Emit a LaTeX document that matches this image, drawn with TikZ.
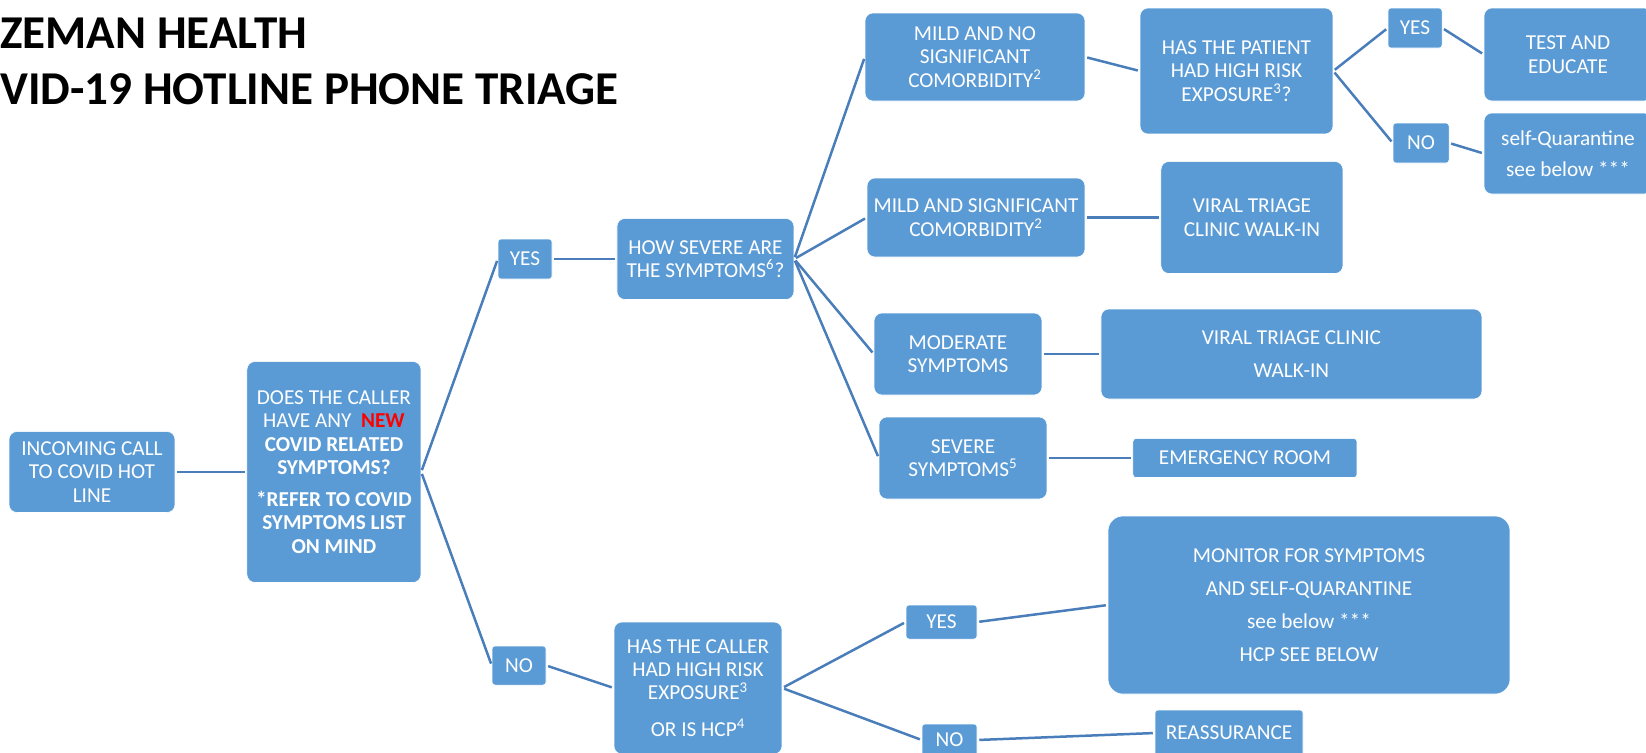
\documentclass[tikz,border=0pt]{standalone}
\usepackage{fontspec}
\setmainfont{Carlito}
\usetikzlibrary{positioning}

\definecolor{boxblue}{RGB}{91,155,213}
\definecolor{lineblue}{RGB}{74,126,187}
\definecolor{newred}{RGB}{255,0,0}

\newcommand{\boxfont}{\fontsize{12.1}{13.3}\selectfont}
\newcommand{\titlefont}{\fontsize{26.8}{32}\selectfont\bfseries}

\begin{document}
\begin{tikzpicture}[x=0.02cm, y=-0.02cm,
    box/.style={rectangle, rounded corners=0.16cm, fill=boxblue, draw=white, line width=0.3pt,
                text=white, align=center, inner sep=0pt, font=\boxfont},
    tag/.style={box, rounded corners=0.06cm},
    link/.style={draw=lineblue, line width=0.05cm, shorten <=0.04cm, shorten >=0.04cm}]

    \useasboundingbox (0,0) rectangle (1646,752);
    \clip (0,0) rectangle (1646,752);

    % Title
    \node (title1) [anchor=base west, font=\titlefont, inner sep=0pt] at (0,48) {ZEMAN HEALTH};
    \node (title2) [anchor=base west, font=\titlefont, inner sep=0pt] at (0,104) {VID-19 HOTLINE PHONE TRIAGE};

    % Nodes
    \node (incoming) [box, minimum width=3.32cm, minimum height=1.62cm] at (92,472)
        {INCOMING CALL\\TO COVID HOT\\LINE};
    \node (does) [box, right of=incoming, node distance=4.84cm, minimum width=3.48cm, minimum height=4.42cm]
        {DOES THE CALLER\\HAVE ANY\ \ \textcolor{newred}{\textbf{NEW}}\\\textbf{COVID RELATED}\\\textbf{SYMPTOMS?}\\[0.17cm]\textbf{*REFER TO COVID}\\\textbf{SYMPTOMS LIST}\\\textbf{ON MIND}};

    \node (yes1) [tag, minimum width=1.08cm, minimum height=0.8cm] at (525,259) {YES};
    \node (how) [box, right of=yes1, node distance=3.61cm, minimum width=3.54cm, minimum height=1.62cm]
        {HOW SEVERE ARE\\THE SYMPTOMS\textsuperscript{6}?};
    \node (no1) [tag, minimum width=1.08cm, minimum height=0.78cm] at (519,665.5) {NO};
    \node (hasc) [box, minimum width=3.36cm, minimum height=2.64cm] at (698,688)
        {HAS THE CALLER\\HAD HIGH RISK\\EXPOSURE\textsuperscript{3}\\[0.27cm]OR IS HCP\textsuperscript{4}};

    \node (mildno) [box, minimum width=4.4cm, minimum height=1.76cm] at (975,57)
        {MILD AND NO\\SIGNIFICANT\\COMORBIDITY\textsuperscript{2}};
    \node (hasp) [box, minimum width=3.86cm, minimum height=2.52cm] at (1236.5,71)
        {HAS THE PATIENT\\HAD HIGH RISK\\EXPOSURE\textsuperscript{3}?};
    \node (yes2) [tag, minimum width=1.08cm, minimum height=0.8cm] at (1415,28) {YES};
    \node (no2) [tag, minimum width=1.12cm, minimum height=0.8cm] at (1421,143) {NO};
    \node (test) [box, minimum width=3.36cm, minimum height=1.86cm] at (1568,54.5) {TEST AND\\EDUCATE};
    \node (selfq) [box, minimum width=3.36cm, minimum height=1.62cm] at (1568,153.5)
        {self-Quarantine\\[0.15cm]see below ***};

    \node (mildsig) [box, minimum width=4.36cm, minimum height=1.58cm] at (976,217.5)
        {MILD AND SIGNIFICANT\\COMORBIDITY\textsuperscript{2}};
    \node (viral1) [box, right of=mildsig, node distance=5.52cm, minimum width=3.64cm, minimum height=2.24cm]
        {VIRAL TRIAGE\\CLINIC WALK-IN};

    \node (mod) [box, minimum width=3.36cm, minimum height=1.64cm] at (958,354) {MODERATE\\SYMPTOMS};
    \node (viral2) [box, right of=mod, node distance=6.67cm, minimum width=7.62cm, minimum height=1.8cm]
        {VIRAL TRIAGE CLINIC\\[0.19cm]WALK-IN};

    \node (sev) [box, minimum width=3.36cm, minimum height=1.64cm] at (963,458) {SEVERE\\SYMPTOMS\textsuperscript{5}};
    \node (er) [tag, right of=sev, node distance=5.64cm, minimum width=4.48cm, minimum height=0.78cm] {EMERGENCY ROOM};

    \node (yes3) [tag, minimum width=1.42cm, minimum height=0.68cm] at (941.5,622) {YES};
    \node (mon) [box, rounded corners=0.3cm, minimum width=8.04cm, minimum height=3.56cm] at (1309,605)
        {MONITOR FOR SYMPTOMS\\[0.19cm]AND SELF-QUARANTINE\\[0.19cm]see below ***\\[0.19cm]HCP SEE BELOW};
    \node (no3) [tag, minimum width=1.1cm, minimum height=0.64cm] at (949.5,740) {NO};
    \node (reass) [tag, minimum width=2.96cm, minimum height=0.92cm] at (1229,733) {REASSURANCE};

    % Lines
    \draw[link] (incoming.east) -- (does.west);
    \draw[link] (does.east) -- (yes1.west);
    \draw[link] (does.east) -- (no1.west);
    \draw[link] (yes1.east) -- (how.west);
    \draw[link] (how.east) -- (mildno.west);
    \draw[link] (how.east) -- (mildsig.west);
    \draw[link] (how.east) -- (mod.west);
    \draw[link] (how.east) -- (sev.west);
    \draw[link] (mildno.east) -- (hasp.west);
    \draw[link] (hasp.east) -- (yes2.west);
    \draw[link] (hasp.east) -- (no2.west);
    \draw[link] (yes2.east) -- (test.west);
    \draw[link] (no2.east) -- (selfq.west);
    \draw[link] (mildsig.east) -- (viral1.west);
    \draw[link] (mod.east) -- (viral2.west);
    \draw[link] (sev.east) -- (er.west);
    \draw[link] (no1.east) -- (hasc.west);
    \draw[link] (hasc.east) -- (yes3.west);
    \draw[link] (hasc.east) -- (no3.west);
    \draw[link] (yes3.east) -- (mon.west);
    \draw[link] (no3.east) -- (reass.west);

\end{tikzpicture}
\end{document}
